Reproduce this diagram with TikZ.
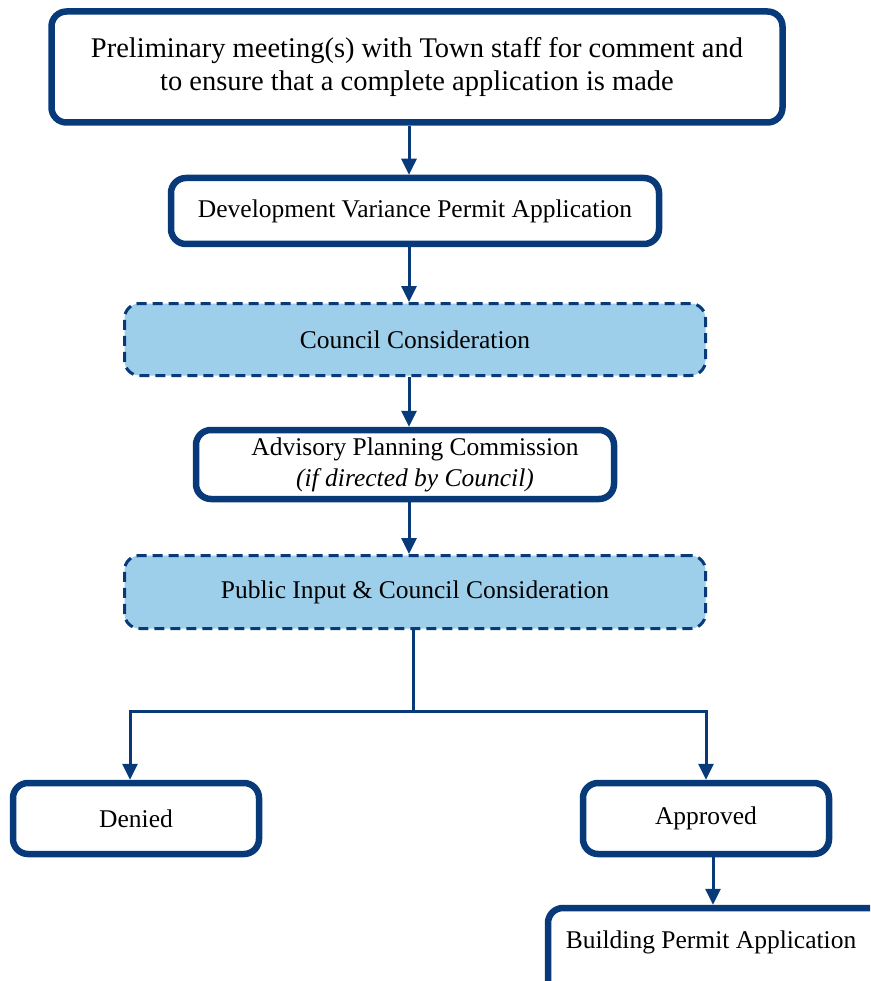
\documentclass[tikz,border=0pt]{standalone}
\usepackage{fontspec}
\setmainfont{Liberation Serif}
\usetikzlibrary{arrows.meta}
\definecolor{navy}{RGB}{8,58,122}
\definecolor{lightblue}{RGB}{157,206,234}
\tikzset{
  solidbox/.style={draw=navy, line width=6.5pt, rounded corners=15pt, fill=white, align=center, inner sep=0pt, font=\fontsize{25.5}{31}\selectfont},
  dashbox/.style={draw=navy, line width=3pt, dash pattern=on 10pt off 6pt, rounded corners=15pt, fill=lightblue, align=center, inner sep=0pt, font=\fontsize{25.5}{31}\selectfont},
  arr/.style={draw=navy, line width=3pt, -{Triangle[width=15pt,length=16pt]}},
  conn/.style={draw=navy, line width=3pt},
}
\begin{document}
\begin{tikzpicture}[x=1pt,y=-1pt]
\useasboundingbox (0,0) rectangle (870,981);
\clip (0,0) rectangle (870,981);
\node[solidbox, minimum width=731pt, minimum height=111pt, font=\fontsize{28.5}{33}\selectfont] (b1) at (417,67) {Preliminary meeting(s) with Town staff for comment and\\to ensure that a complete application is made};
\node[solidbox, minimum width=488pt, minimum height=66pt] (b2) at (415,211) {Development Variance Permit Application};
\node[dashbox, minimum width=581pt, minimum height=72pt] (b3) at (415,339.5) {Council Consideration};
\node[solidbox, minimum width=418pt, minimum height=69pt] (b4) at (405,464.5) {\hspace*{20pt}Advisory Planning Commission\\\hspace*{20pt}\textit{(if directed by Council)}};
\node[dashbox, minimum width=581pt, minimum height=73pt] (b5) at (415,592) {Public Input \& Council Consideration};
\node[solidbox, minimum width=246pt, minimum height=71pt] (denied) at (136,818.5) {Denied};
\node[solidbox, minimum width=246pt, minimum height=71pt] (approved) at (706,818.5) {Approved};
\node[solidbox, minimum width=340pt, minimum height=90pt] (bp) at (718,953) {};
\node[font=\fontsize{25.5}{31}\selectfont, inner sep=0pt] (bptext) at (711,942) {Building Permit Application};
\coordinate (ax) at (409,0);
\coordinate (split) at (413,711);
\coordinate (dx) at (130,0);
\coordinate (apx) at (713,0);
\draw[arr] (b1.south -| ax) -- (b2.north -| ax);
\draw[arr] (b2.south -| ax) -- (b3.north -| ax);
\draw[arr] (b3.south -| ax) -- (b4.north -| ax);
\draw[arr] (b4.south -| ax) -- (b5.north -| ax);
\draw[conn] (b5.south -| split) -- (split);
\draw[arr] (split) -| (denied.north -| dx);
\draw[arr] (split) -| (approved.north);
\draw[arr] (approved.south -| apx) -- (bp.north -| apx);
\end{tikzpicture}
\end{document}
